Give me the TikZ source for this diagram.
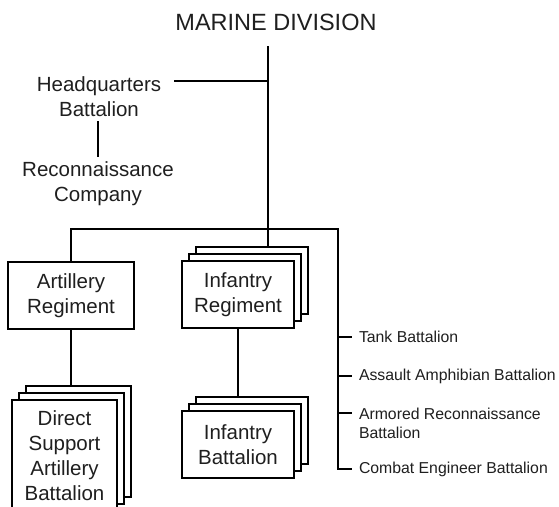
\documentclass[tikz,border=0pt]{standalone}
\usepackage{fontspec}
\setmainfont{Liberation Sans}
\begin{document}
\begin{tikzpicture}[x=1pt,y=-1pt, line width=2pt,
  txt/.style={font=\fontsize{20.5}{25}\selectfont, align=center, inner sep=0pt, text=black!88},
  small/.style={font=\fontsize{15.8}{19}\selectfont, align=left, inner sep=0pt, anchor=west, text=black!88},
  unit/.style={draw, fill=white, line width=2pt, align=center, inner sep=0pt, text=black!88, font=\fontsize{20.5}{25}\selectfont}]
\clip (0,0) rectangle (559,506);
\fill[white] (0,0) rectangle (559,506);

% title and headquarters
\node[font=\fontsize{23.5}{28}\selectfont, inner sep=0pt, text=black!88] (md) at (276,22) {MARINE DIVISION};
\coordinate (spine) at (268,46);
\coordinate (bar) at (268,229);
\coordinate (rb) at (338,229);
\node[txt] (hq) at (99,96.5) {Headquarters\\Battalion};
\coordinate (hqr) at (174,81);
\coordinate (hqb) at (98,121);
\node[txt] (rc) at (98,183.5) {Reconnaissance\\Company};
\coordinate (rct) at (98,157);

% artillery regiment
\node[unit, minimum width=126pt, minimum height=67pt] (ar) at (71,295.5) {Artillery\\Regiment};

% infantry regiment (stack)
\node[unit, minimum width=112pt, minimum height=67pt] (ir3) at (252,280.5) {};
\node[unit, minimum width=112pt, minimum height=67pt] (ir2) at (245,287.5) {};
\node[unit, minimum width=112pt, minimum height=67pt] (ir) at (238,294.5) {Infantry\\Regiment};

% infantry battalion (stack)
\node[unit, minimum width=112pt, minimum height=67pt] (ib3) at (252,430.5) {};
\node[unit, minimum width=112pt, minimum height=67pt] (ib2) at (245,437.5) {};
\node[unit, minimum width=112pt, minimum height=67pt] (ib) at (238,444.5) {Infantry\\Battalion};

% direct support artillery battalion (stack)
\node[unit, minimum width=105pt, minimum height=111pt] (ds3) at (78.5,441.5) {};
\node[unit, minimum width=105pt, minimum height=111pt] (ds2) at (71.5,448.5) {};
\node[unit, minimum width=105pt, minimum height=111pt] (ds) at (64.5,455.5) {Direct\\Support\\Artillery\\Battalion};

% separate battalions
\node[small] (tank) at (358,337) {Tank Battalion};
\node[small] (aab) at (358,376) {Assault Amphibian Battalion};
\node[small] (arb) at (358,423.5) {Armored Reconnaissance\\Battalion};
\node[small] (ceb) at (358,469) {Combat Engineer Battalion};
\coordinate (arbt) at (352,413);

% connectors
\draw (spine) -- (spine |- ir3.north);
\draw (hqr) -- (hqr -| spine);
\draw (hqb) -- (rct);
\draw[shorten >=6pt] (ar.north) -- (ar.north |- bar) -- (rb) -- (rb |- ceb.west) -- (ceb.west);
\draw (ar.south) -- (ar.south |- ds3.north);
\draw (ir.south) -- (ir.south |- ib3.north);
\draw[shorten >=6pt] (rb |- tank.west) -- (tank.west);
\draw[shorten >=6pt] (rb |- aab.west) -- (aab.west);
\draw (rb |- arbt) -- (arbt);
\end{tikzpicture}
\end{document}
